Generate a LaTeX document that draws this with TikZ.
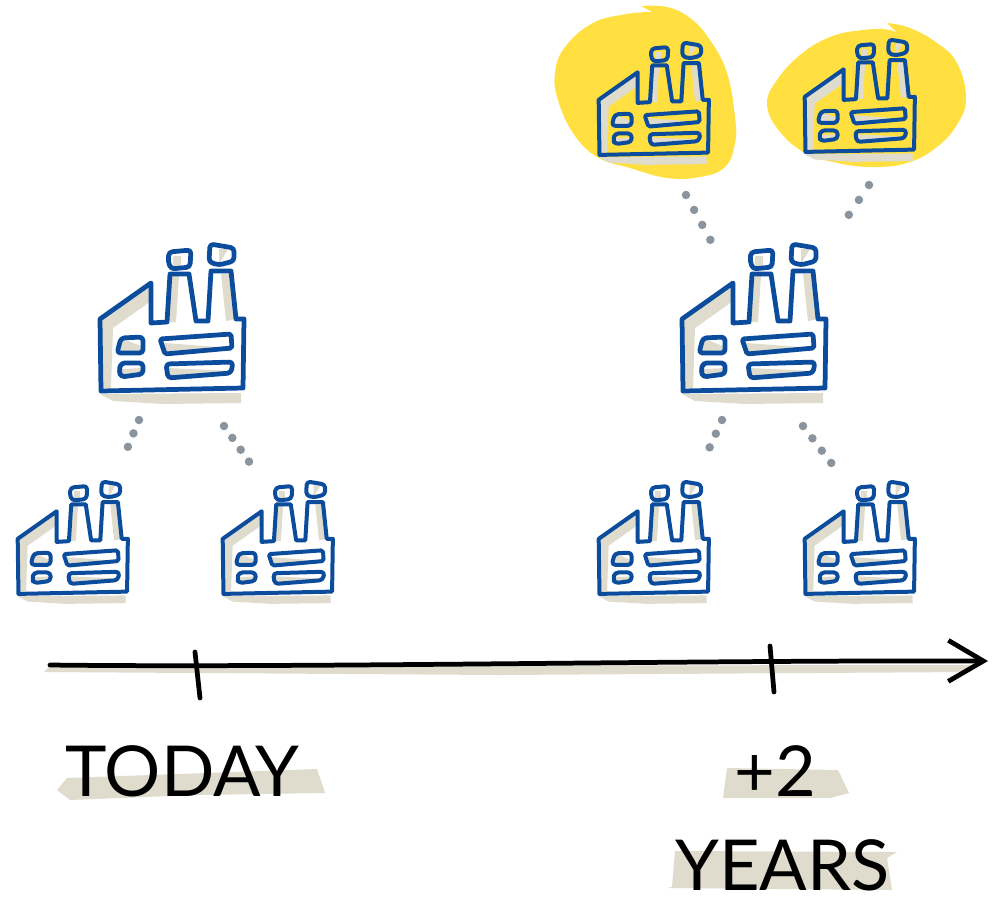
\documentclass[tikz,border=0pt]{standalone}
\usepackage{fontspec}
\setmainfont{Lato}
\usepackage{xcolor}
\usepackage{tikz}
\usetikzlibrary{positioning,arrows.meta}
\definecolor{sand}{HTML}{DFDBCD}
\definecolor{factoryblue}{HTML}{0B4C9C}
\definecolor{marker}{HTML}{FFE040}
\definecolor{dotgrey}{HTML}{8A949E}

\tikzset{
pics/factory/.style={code={
    % shadow first, the pen goes over it
    \fill[sand] (-71,63) -- (70,62) -- (70,72) -- (-8,73) -- (-58,70) -- cycle;
    \fill[sand] (-71,-12) -- (-20,-48) -- (-20,-30) -- (-58,-3) -- (-60,57) -- (-70,57) -- cycle;
    \fill[sand] (-1,-55) -- (8,-55) -- (5,-9) -- (-4,-9) -- cycle;
    \fill[sand] (50,-57) -- (60,-57) -- (65,-12) -- (55,-10) -- cycle;
    \fill[sand] (2,-75) -- (10,-75) -- (10,-65) -- (2,-65) -- cycle;
    \fill[sand] (48,-82) -- (57,-82) -- (48,-67) -- cycle;
    \fill[sand] (-48,8) -- (-30,15) -- (-28,22) -- (-53,22) -- cycle;
    \fill[sand] (-49,38) -- (-28,37) -- (-28,43) -- (-50,46) -- cycle;
    \fill[sand] (-7,12) -- (60,17) -- (-6,23) -- cycle;
    \fill[sand] (-3,37) -- (60,40) -- (58,42) -- (-3,47) -- cycle;
    \begin{scope}[draw=factoryblue,line width=#1,line join=round,line cap=round]
    \draw (-71,-12) -- (-20,-48) -- (-20,-8) -- (-4,-9) -- (-1,-57) -- (18,-57) -- (25,-10)
        -- (37,-10) -- (40,-60) -- (60,-60) -- (65,-12) -- (73,-12) -- (72,57) -- (-70,60) -- cycle;
    \draw[rounded corners=2pt] (-2,-79) -- (20,-81) -- (19,-64) -- (0,-62) -- (-3,-70) -- cycle;
    \draw[rounded corners=2pt] (39,-87) -- (63,-83) -- (63,-70) -- (48,-66) -- (38,-69) -- cycle;
    \draw[rounded corners=2pt] (-50,7) -- (-28,6) -- (-28,22) -- (-54,22) -- cycle;
    \draw[rounded corners=2pt] (-50,32) -- (-28,32) -- (-28,43) -- (-50,46) -- (-52,40) -- cycle;
    \draw[rounded corners=1pt] (-11,8) -- (60,3) -- (61,17) -- (-6,23) -- cycle;
    \draw[rounded corners=2pt] (-5,33) -- (62,31) -- (60,42) -- (-3,47) -- cycle;
    \end{scope}
}}
}

\begin{document}
\begin{tikzpicture}[
x=.02cm,y=-.02cm,
dotlink/.style={draw=dotgrey,line width=.17cm,line cap=round,dash pattern=on 0pt off #1},
pen/.style={draw=black,line width=.095cm,line cap=round,line join=round},
handtext/.style={inner sep=0pt,font=\fontsize{40}{40}\selectfont}]
\useasboundingbox (0,0) rectangle (993,903);

% yellow blobs behind the two new plants
\fill[marker] plot[smooth,tension=.7] coordinates {(641,6) (667,7) (690,18) (710,40) (727,73) (735,117) (735,143) (725,167) (700,177) (667,178) (630,168) (597,157) (573,133) (558,100) (555,73) (565,47) (593,23) (627,14) (652,12)} -- cycle;
\fill[marker] plot[smooth,tension=.7] coordinates {(887,23) (910,28) (937,43) (957,63) (966,97) (958,123) (937,147) (907,163) (870,167) (833,162) (803,152) (777,128) (767,103) (777,80) (800,55) (830,37) (863,30) (890,30) (902,38)} -- cycle;

\pic (newleft) at (653,109) [scale=.765] {factory=.08cm};
\pic (newright) at (859,106) [scale=.765] {factory=.08cm};
\pic (bigtoday) at (171,331) {factory=.095cm};
\pic (bigplus) at (753,331) {factory=.095cm};
\pic (smallone) at (72,548) [scale=.765] {factory=.08cm};
\pic (smalltwo) at (277,548) [scale=.765] {factory=.08cm};
\pic (smallthree) at (653,548) [scale=.765] {factory=.08cm};
\pic (smallfour) at (859,548) [scale=.765] {factory=.08cm};

% dots
\coordinate (aone) at (139,420); \coordinate (atwo) at (127,449);
\coordinate (bone) at (224,426); \coordinate (btwo) at (250,463);
\coordinate (cone) at (686,195); \coordinate (ctwo) at (711,241);
\coordinate (done) at (869,185); \coordinate (dtwo) at (848,216);
\coordinate (eone) at (722,420); \coordinate (etwo) at (708,451);
\coordinate (fone) at (803,426); \coordinate (ftwo) at (832,464);
\draw[dotlink=.29cm] (aone) -- (atwo);
\draw[dotlink=.29cm] (bone) -- (btwo);
\draw[dotlink=.34cm] (cone) -- (ctwo);
\draw[dotlink=.36cm] (done) -- (dtwo);
\draw[dotlink=.3cm] (eone) -- (etwo);
\draw[dotlink=.31cm] (fone) -- (ftwo);

% time axis
\fill[sand] (44,672) -- (50,666) -- (975,665) -- (970,672) -- (500,675) -- cycle;
\coordinate (axisstart) at (50,665);
\coordinate (axisend) at (988,661);
\coordinate (tickatop) at (195,652);
\coordinate (tickabot) at (200,698);
\coordinate (tickbtop) at (770,646);
\coordinate (tickbbot) at (774,692);
\draw[pen,-{Straight Barb[length=.7cm,width=.82cm,line width=.095cm]}] (axisstart) .. controls (300,668) and (700,660) .. (axisend);
\draw[pen] (tickatop) -- (tickabot);
\draw[pen] (tickbtop) -- (tickbbot);

% labels
\fill[sand] (57,790) -- (67,778) -- (317,769) -- (325,793) -- (197,795) -- (70,800) -- cycle;
\fill[sand] (727,768) -- (838,770) -- (849,793) -- (830,798) -- (723,798) -- cycle;
\fill[sand] (675,851) -- (897,852) -- (887,858) -- (892,890) -- (667,888) -- (672,887) -- cycle;
\node (today) [handtext,anchor=base west] at (65,796) {TODAY};
\node (plustwo) [handtext,anchor=base] at (775,796) {+2};
\node (years) [handtext,below=.85cm of plustwo,xshift=.15cm] {YEARS};
\end{tikzpicture}
\end{document}
